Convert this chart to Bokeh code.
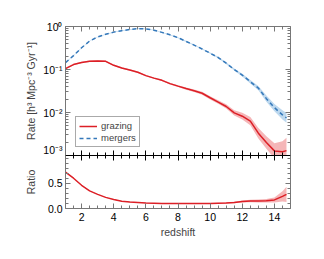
from bokeh.plotting import figure
from bokeh.models import (LinearAxis, LogAxis, FixedTicker, CustomJSTickFormatter,
                          PrintfTickFormatter, Range1d, Legend, LegendItem, ColumnDataSource)
from bokeh.layouts import column
from bokeh.embed import file_html
from bokeh.resources import INLINE

# ---------------- data ----------------
z = [1.0, 1.5, 2.0, 2.5, 3.0, 3.5, 4.0, 4.5, 5.0, 5.5, 6.0, 6.5, 7.0, 7.5,
     8.0, 8.5, 9.0, 9.5, 10.0, 10.5, 11.0, 11.5, 12.0, 12.5, 13.0, 13.5,
     14.0, 14.5, 14.75]
grazing = [0.105, 0.13, 0.145, 0.155, 0.158, 0.155, 0.125, 0.108, 0.097, 0.086,
           0.072, 0.063, 0.056, 0.047, 0.041, 0.036, 0.032, 0.028, 0.022, 0.0175,
           0.0138, 0.0098, 0.0082, 0.0063, 0.0033, 0.0020, 0.00128, 0.00122, 0.0013]
grazing_err = [0.04, 0.04, 0.04, 0.04, 0.04, 0.04, 0.04, 0.04, 0.04, 0.04,
               0.04, 0.04, 0.04, 0.045, 0.05, 0.06, 0.07, 0.08, 0.09, 0.10,
               0.12, 0.15, 0.20, 0.25, 0.32, 0.40, 0.50, 0.75, 1.0]
mergers = [0.145, 0.21, 0.32, 0.46, 0.57, 0.66, 0.74, 0.80, 0.85, 0.89,
           0.88, 0.82, 0.73, 0.64, 0.55, 0.45, 0.37, 0.30, 0.24, 0.19,
           0.14, 0.10, 0.074, 0.052, 0.037, 0.021, 0.013, 0.0088, 0.0075]
mergers_err = [0.02, 0.02, 0.02, 0.02, 0.02, 0.02, 0.02, 0.02, 0.02, 0.02,
               0.02, 0.02, 0.02, 0.02, 0.025, 0.03, 0.03, 0.03, 0.035, 0.04,
               0.05, 0.06, 0.08, 0.10, 0.12, 0.18, 0.22, 0.28, 0.30]
ratio = [0.72, 0.60, 0.46, 0.35, 0.28, 0.22, 0.18, 0.145, 0.13, 0.12,
         0.11, 0.105, 0.10, 0.10, 0.10, 0.10, 0.10, 0.10, 0.10, 0.105,
         0.11, 0.12, 0.14, 0.15, 0.15, 0.155, 0.17, 0.24, 0.28]
ratio_err = [0.005, 0.005, 0.005, 0.005, 0.005, 0.005, 0.005, 0.005, 0.005, 0.005,
             0.005, 0.005, 0.005, 0.005, 0.005, 0.006, 0.007, 0.008, 0.009, 0.01,
             0.012, 0.015, 0.02, 0.025, 0.03, 0.035, 0.05, 0.10, 0.15]

x_major = [2, 4, 6, 8, 10, 12, 14]
log_major = [1e-3, 1e-2, 1e-1, 1e0]
ratio_major = [0.0, 0.5]

# ---------------- styles ----------------
FONT = "Liberation Sans"
RED = "#dc1f26"
RED_BAND = "#f3a9ab"
BLUE = "#3478ba"
BLUE_BAND = "#b6d4ec"
FRAME = "#777777"

x_minor = [1 + 0.5 * i for i in range(29) if (1 + 0.5 * i) not in x_major]
log_minor = [k * m for m in [1e-3, 1e-2, 1e-1] for k in range(2, 10)]
ratio_minor = [0.1, 0.2, 0.3, 0.4, 0.6, 0.7, 0.8, 0.9, 1.0]

src = ColumnDataSource(dict(
    z=z, g=grazing, m=mergers, r=ratio,
    g_lo=[v / (1 + e) for v, e in zip(grazing, grazing_err)],
    g_hi=[v * (1 + e) for v, e in zip(grazing, grazing_err)],
    m_lo=[v / (1 + e) for v, e in zip(mergers, mergers_err)],
    m_hi=[v * (1 + e) for v, e in zip(mergers, mergers_err)],
    r_lo=[v - e for v, e in zip(ratio, ratio_err)],
    r_hi=[v + e for v, e in zip(ratio, ratio_err)],
))


def style_axis(ax, major, minor, color, labels):
    ax.ticker = FixedTicker(ticks=major, minor_ticks=minor)
    ax.major_tick_in = 5
    ax.major_tick_out = 0
    ax.minor_tick_in = 3
    ax.minor_tick_out = 0
    ax.axis_line_color = color
    ax.major_tick_line_color = color
    ax.minor_tick_line_color = color
    ax.axis_line_width = 1
    ax.major_label_text_font = FONT
    ax.major_label_text_font_size = "10.5px"
    ax.major_label_text_color = "black"
    ax.axis_label_text_font = FONT
    ax.axis_label_text_font_size = "10.5px"
    ax.axis_label_text_font_style = "normal"
    if not labels:
        ax.major_label_text_font_size = "0px"
        ax.major_label_standoff = 0
        ax.formatter = CustomJSTickFormatter(code="return ''")


log_fmt = CustomJSTickFormatter(code="""
const e = Math.round(Math.log10(tick));
const sup = {'-':'\u207b','0':'\u2070','1':'\u00b9','2':'\u00b2','3':'\u00b3'};
return '10' + String(e).split('').map(c => sup[c]).join('');
""")

# ---------------- top panel ----------------
p1 = figure(width=312, height=155, x_range=Range1d(1, 15), y_range=Range1d(1e-3, 1),
            y_axis_type="log", x_axis_location=None, y_axis_location=None,
            output_backend="svg", toolbar_location=None,
            min_border_left=65, min_border_right=22, min_border_top=26, min_border_bottom=0)
p1.grid.visible = False
p1.outline_line_color = None

b1 = p1.varea(x="z", y1="g_lo", y2="g_hi", source=src, fill_color=RED_BAND, fill_alpha=0.85)
b2 = p1.varea(x="z", y1="m_lo", y2="m_hi", source=src, fill_color=BLUE_BAND, fill_alpha=0.9)
lg = p1.line(x="z", y="g", source=src, line_color=RED, line_width=1.5)
lm = p1.line(x="z", y="m", source=src, line_color=BLUE, line_width=1.5, line_dash="4 3")

ax = LogAxis(axis_label="Rate [h\u00b3 Mpc\u207b\u00b3 Gyr\u207b\u00b9]")
style_axis(ax, log_major, log_minor, FRAME, True)
ax.formatter = log_fmt
ax.major_label_standoff = 3
ax.axis_label_standoff = 3
p1.add_layout(ax, "left")
ax = LogAxis()
style_axis(ax, log_major, log_minor, FRAME, False)
p1.add_layout(ax, "right")
ax = LinearAxis()
style_axis(ax, x_major, x_minor, FRAME, False)
p1.add_layout(ax, "above")
ax = LinearAxis()
style_axis(ax, x_major, x_minor, "black", False)
p1.add_layout(ax, "below")

legend = Legend(items=[LegendItem(label="grazing", renderers=[lg]),
                       LegendItem(label="mergers", renderers=[lm])],
                location=(10, 8), label_text_font=FONT, label_text_font_size="9.5px",
                glyph_width=18, glyph_height=10, label_height=10, padding=3, spacing=1,
                label_standoff=4, margin=0, border_line_color="#555555",
                border_line_width=1, background_fill_alpha=1.0)
p1.add_layout(legend)

# ---------------- bottom panel ----------------
p2 = figure(width=312, height=85, x_range=p1.x_range, y_range=Range1d(0, 1.05),
            x_axis_location=None, y_axis_location=None,
            output_backend="svg", toolbar_location=None,
            min_border_left=65, min_border_right=22, min_border_top=0, min_border_bottom=32)
p2.grid.visible = False
p2.outline_line_color = None

p2.varea(x="z", y1="r_lo", y2="r_hi", source=src, fill_color=RED_BAND, fill_alpha=0.85)
p2.line(x="z", y="r", source=src, line_color=RED, line_width=1.5)

ax = LinearAxis(axis_label="Ratio")
style_axis(ax, ratio_major, ratio_minor, FRAME, True)
ax.formatter = PrintfTickFormatter(format="%.1f")
ax.major_label_standoff = 3
ax.axis_label_standoff = 8
p2.add_layout(ax, "left")
ax = LinearAxis()
style_axis(ax, ratio_major, ratio_minor, FRAME, False)
p2.add_layout(ax, "right")
ax = LinearAxis()
style_axis(ax, x_major, x_minor, "black", False)
p2.add_layout(ax, "above")
ax = LinearAxis(axis_label="redshift")
style_axis(ax, x_major, x_minor, FRAME, True)
ax.major_label_standoff = 4
ax.axis_label_standoff = 2
p2.add_layout(ax, "below")

layout = column(p1, p2, spacing=0)
open("out.html", "w").write(file_html(layout, INLINE))
